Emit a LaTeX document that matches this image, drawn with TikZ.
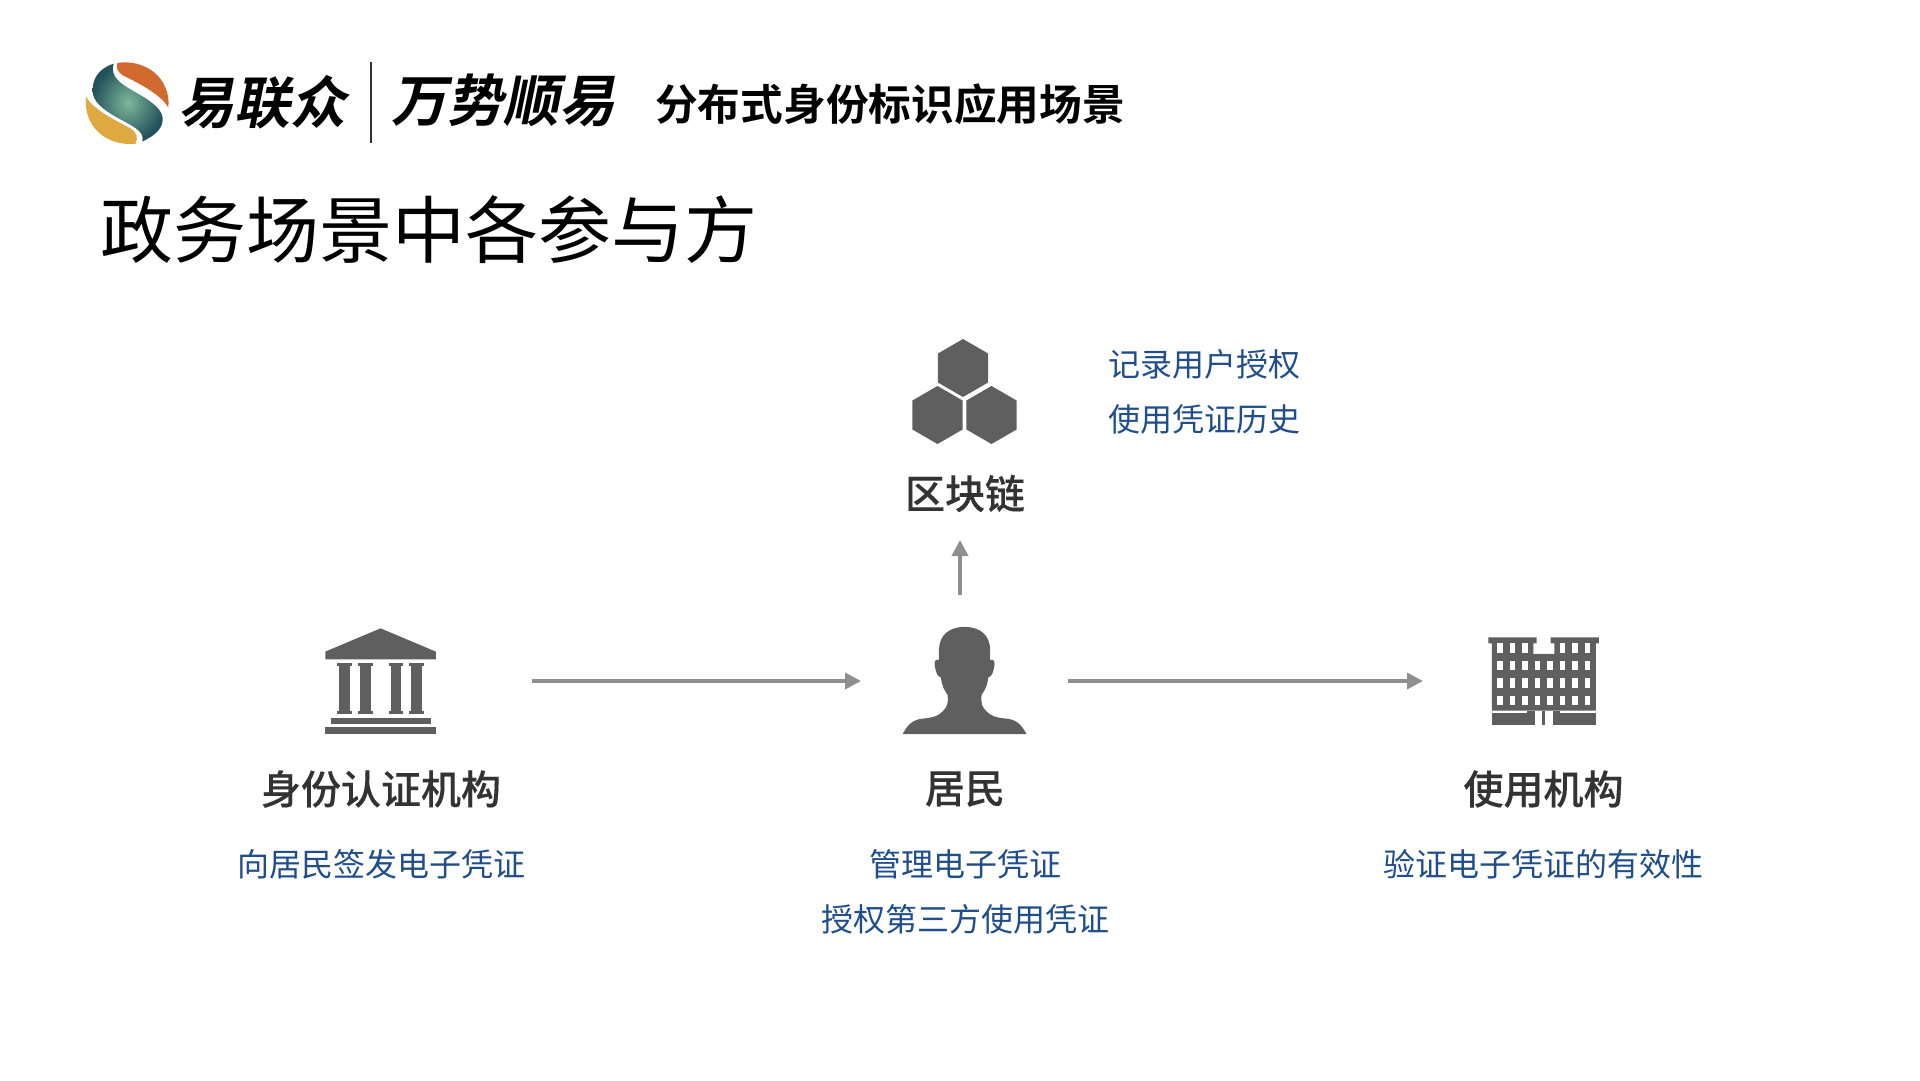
\documentclass[tikz,border=0pt]{standalone}
\usepackage{xcolor}
\usepackage{fontspec}
\usetikzlibrary{arrows.meta}
\setmainfont{Noto Sans CJK SC}
\newfontfamily\medfont[FakeBold=0.2]{Noto Sans CJK SC Medium}
\newfontfamily\boldfont{Noto Sans CJK SC Bold}
\newfontfamily\brandfont[FakeSlant=0.2]{Noto Sans CJK SC Bold}
\definecolor{iconc}{HTML}{5F5F5F}
\definecolor{flowc}{HTML}{8F8F8F}
\definecolor{labelc}{HTML}{333333}
\definecolor{notec}{HTML}{1F4E8A}
\definecolor{orangec}{HTML}{D2692F}
\definecolor{yellowc}{HTML}{DFA942}
\definecolor{tealin}{HTML}{7DB89A}
\definecolor{tealout}{HTML}{24525C}
\tikzset{
  holder/.style={minimum width=#1, minimum height=108pt, inner sep=0pt, outer sep=0pt},
  flow/.style={draw=flowc, line width=3.6pt, -{Triangle[length=16pt,width=16pt]}},
  party/.style={font=\fontsize{40}{40}\selectfont\medfont, text=labelc, inner sep=0pt},
  note/.style={font=\fontsize{32}{32}\selectfont, text=notec, inner sep=0pt},
  brand/.style={font=\fontsize{56}{56}\selectfont\brandfont, inner sep=0pt, anchor=west}
}
\begin{document}
\begin{tikzpicture}[x=1pt,y=-1pt]
  \useasboundingbox (0,0) rectangle (1920,1080);
  % logo
  \begin{scope}[shift={(60,40)},x=0.383pt,y=-0.338pt]
    \fill[orangec] (150,68) .. controls (220,55) and (290,110) .. (283,200) .. controls (260,155) and (190,120) .. (165,105) .. controls (150,95) and (145,80) .. (150,68) -- cycle;
    \fill[yellowc] (68,168) .. controls (90,210) and (150,240) .. (185,262) .. controls (200,272) and (205,290) .. (197,307) .. controls (125,315) and (60,260) .. (68,168) -- cycle;
    \shade[inner color=tealin, outer color=tealout] (140,70) .. controls (100,85) and (85,115) .. (85,150) .. controls (85,180) and (110,205) .. (150,230) .. controls (190,255) and (222,270) .. (215,300) .. controls (255,280) and (270,255) .. (268,230) .. controls (265,200) and (230,175) .. (190,150) .. controls (160,130) and (130,110) .. (140,70) -- cycle;
  \end{scope}
  \node (brandA) [brand] at (178,102) {易联众};
  \draw[line width=1.6pt, black!80] (371,62) -- (371,143);
  \node (brandB) [brand] at (391,100.5) {万势顺易};
  \node (subtitle) [anchor=west, inner sep=0pt, font=\fontsize{42.7}{42.7}\selectfont\boldfont] at (655,104) {分布式身份标识应用场景};
  \node (title) [anchor=west, inner sep=0pt, font=\fontsize{73}{73}\selectfont] at (100,230) {政务场景中各参与方};
  % holders for the icons
  \node (bank) [holder=111pt] at (380.5,681) {};
  \node (person) [holder=124pt] at (965,681) {};
  \node (office) [holder=111pt] at (1543.5,681) {};
  \node (chain) [holder=105pt] at (965,391) {};
  % bank
  \begin{scope}[shift={(300,610)},x=0.333pt,y=-0.333pt]
    \fill[iconc] (76,125) -- (242,55) -- (408,125) -- (408,148) -- (76,148) -- cycle;
    \foreach \cx in {112,174,266,328} {
      \fill[iconc] (\cx,159) rectangle +(44,8);
      \fill[iconc] (\cx+6,167) rectangle +(32,136);
      \fill[iconc] (\cx,303) rectangle +(44,8);
    }
    \fill[iconc] (92,323) rectangle (392,341);
    \fill[iconc] (76,352) rectangle (408,371);
  \end{scope}
  % blockchain
  \foreach \hx/\hy in {963/368,937.5/415,991.5/415} {
    \fill[iconc] (\hx,\hy) +(90:-29) -- +(30:-29) -- +(-30:-29) -- +(-90:-29) -- +(-150:-29) -- +(150:-29) -- cycle;
  }
  % resident
  \begin{scope}[shift={(880,530)},x=0.333pt,y=-0.333pt]
    \fill[iconc] (254,291) .. controls (300,291) and (330,315) .. (331,360) -- (331,390)
      .. controls (345,385) and (345,400) .. (343,410) .. controls (340,430) and (335,440) .. (325,443)
      .. controls (322,470) and (315,480) .. (305,495) .. controls (303,520) and (305,530) .. (320,545)
      .. controls (335,560) and (350,563) .. (375,566) .. controls (410,568) and (425,585) .. (440,613)
      -- (68,613) .. controls (83,585) and (98,568) .. (133,566) .. controls (158,563) and (173,560) .. (188,545)
      .. controls (203,530) and (205,520) .. (203,495) .. controls (193,480) and (186,470) .. (183,443)
      .. controls (173,440) and (168,430) .. (165,410) .. controls (163,400) and (163,385) .. (177,390)
      -- (177,360) .. controls (178,315) and (208,291) .. (254,291) -- cycle;
  \end{scope}
  % user organisation
  \begin{scope}[shift={(1470,620)},x=0.333pt,y=-0.333pt]
    \fill[iconc] (55,52) -- (200,52) -- (200,70) -- (190,70) -- (190,102) -- (253,102) -- (253,70) -- (242,70) -- (242,52)
      -- (387,52) -- (387,70) -- (378,70) -- (378,272) -- (66,272) -- (66,70) -- (55,70) -- cycle;
    \fill[iconc] (66,280) rectangle (196,314);
    \fill[iconc] (248,280) rectangle (378,314);
    \fill[iconc] (172,272) rectangle (196,280);
    \fill[iconc] (248,272) rectangle (270,280);
    \fill[iconc] (217,272) rectangle (226,314);
    \foreach \wx in {82,120,157,269,307,344} {
      \fill[white] (\wx,70) rectangle +(16,28);
    }
    \foreach \wy in {122,175,227} {
      \foreach \wx in {82,120,157,195,232,269,307,344} {
        \fill[white] (\wx,\wy) rectangle +(16,28);
      }
    }
  \end{scope}
  % connectors
  \draw[flow] ([xshift=96pt]bank.east) -- ([xshift=-42pt]person.west);
  \draw[flow] ([xshift=41pt]person.east) -- ([xshift=-65pt]office.west);
  \draw[flow] ([xshift=-5pt,yshift=32pt]person.north) -- ([xshift=-5pt,yshift=-95pt]chain.south);
  % labels
  \node (chainlabel) [party] at (965,493.5) {区块链};
  \node (chainnoteA) [note, anchor=west] at (1108,364.5) {记录用户授权};
  \node (chainnoteB) [note, anchor=west] at (1108,419.5) {使用凭证历史};
  \node (banklabel) [party] at (381,789) {身份认证机构};
  \node (banknote) [note] at (381,864) {向居民签发电子凭证};
  \node (personlabel) [party] at (965,789) {居民};
  \node (personnoteA) [note] at (965,864) {管理电子凭证};
  \node (personnoteB) [note] at (965,919) {授权第三方使用凭证};
  \node (officelabel) [party] at (1543.5,789) {使用机构};
  \node (officenote) [note] at (1543.5,864) {验证电子凭证的有效性};
\end{tikzpicture}
\end{document}
